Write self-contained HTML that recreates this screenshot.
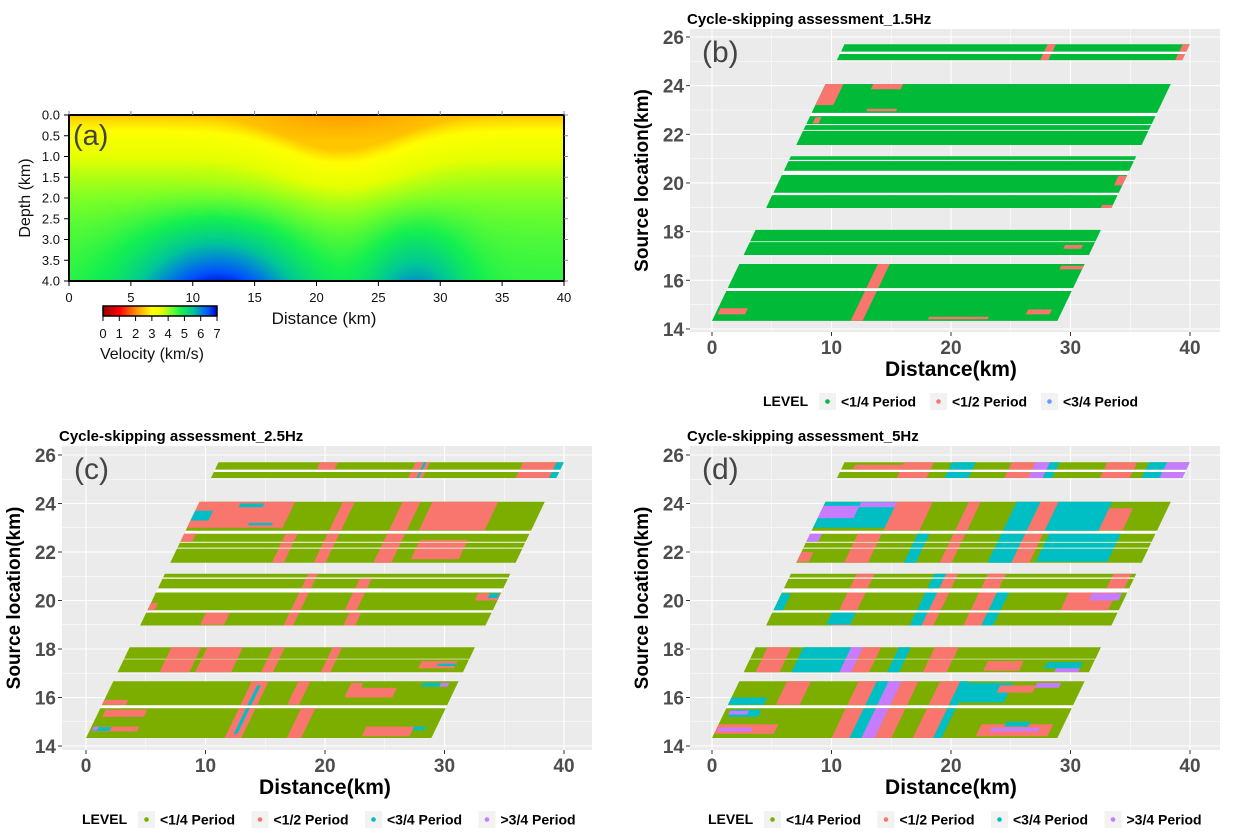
<!DOCTYPE html>
<html><head><meta charset="utf-8">
<style>
html,body{margin:0;padding:0;background:#fff;}
#root{position:relative;width:1233px;height:834px;overflow:hidden;font-family:"Liberation Sans",sans-serif;}
#vel{position:absolute;left:69px;top:115px;width:495px;height:166px;}
svg{position:absolute;left:0;top:0;}
</style></head>
<body>
<div id="root">
<canvas id="vel" width="160" height="54"></canvas>
<svg id="main" width="1233" height="834"></svg>
</div>
<script>
// ---------- data ----------
// velocity model (panel a) parameters: [surface v, increase, decay depth]
const velBase = [2.5, 2.3, 1.6];
const velShallowLow = [22, 6, 0.6];
const velDeepHigh = [[12, 6.5, 2.2], [28, 4, 1.3]];
const xTicksA = [0,5,10,15,20,25,30,35,40];
const yTicksA = [0.0,0.5,1.0,1.5,2.0,2.5,3.0,3.5,4.0];
const cbTicks = [0,1,2,3,4,5,6,7];
// source-line bands (source location km)
const bandsLo = [25.4,25.05,22.88,22.42,22.18,21.56,20.95,20.5,19.6,18.97,17.6,17.04,15.68,14.33];
const bandsHi = [25.7,25.3,24.07,22.75,22.38,22.14,21.1,20.9,20.33,19.5,18.07,17.57,16.67,15.56];
const xTicks = [0,10,20,30,40];
const yTicks = [14,16,18,20,22,24,26];
// patches: [u0,u1,y0,y1,level] where u = distance offset from band start
const patchesB = [
 [11.6,12.6,14.3,16.7,1],[0.2,2.5,14.6,14.85,1],[26,28,14.6,14.8,1],[18,23,14.4,14.5,1],
 [27,29,16.45,16.6,1],[26.5,28,17.3,17.45,1],[28.2,29,19.9,20.3,1],[28,29,18.97,19.1,1],
 [0,1.5,23.2,24.07,1],[4,6.5,23.85,24.07,1],[4.5,7,22.95,23.05,1],[0.5,1,22.45,22.7,1],
 [17,17.7,25.05,25.7,1],[28.3,29.2,25.05,25.7,1]
];
const patchesC = [
 [11.6,13,14.3,16.7,1],[16.8,18,14.3,15.56,1],[0.5,4,15.2,15.5,1],[0.2,4,14.6,14.8,1],
 [0.2,1.7,14.62,14.78,2],[0.2,0.6,14.65,14.8,3],[23,27,14.4,14.8,1],[27,28,14.65,14.8,2],
 [12.2,12.5,14.5,16.5,2],[20,21,16.2,16.6,1],[20,24,16.0,16.4,1],[26,27.5,16.45,16.6,2],
 [27.5,28.2,16.45,16.6,3],[0,2,15.7,15.9,1],[15.5,16.5,15.7,16.67,1],
 [3.5,6,17.04,18.07,1],[6.5,9.5,17.04,18.07,1],[12,13,17.04,18.07,1],[17,17.8,17.04,18.07,1],
 [25,28,17.2,17.5,1],[26.5,28,17.3,17.4,2],
 [12,12.8,18.97,21.1,1],[17,18,18.97,19.5,1],[5,7,19.0,19.6,1],[27,29,20.0,20.3,1],[28,28.8,20.1,20.3,2],
 [16.5,17.5,19.6,20.9,1],[0,0.6,19.6,19.9,1],
 [0,8,23.0,24.07,1],[0,1.5,23.3,23.7,2],[3.5,5.5,23.85,24.0,2],[5,7,23.1,23.2,2],
 [12,13,21.56,24.07,1],[17,18.5,21.56,24.07,1],[19.5,25,22.9,24.07,1],[20,24,21.7,22.5,1],
 [0,1,22.4,22.75,1],[8.5,9.5,21.56,22.75,1],
 [16.5,17.7,25.05,25.7,1],[17.2,17.4,25.05,25.7,2],[25.5,28.3,25.05,25.7,1],[28.3,29,25.05,25.7,2],[8.5,10,25.4,25.7,1]
];
const patchesD = [
 [11.5,12.5,14.3,16.7,2],[12.5,13.6,14.3,16.7,3],[13.6,15,14.3,16.7,1],[10,11.5,14.3,16.7,1],
 [16.8,18.5,14.3,16.7,1],[18.5,19.2,14.3,16.7,2],[0,5,14.5,14.9,1],[0.2,3,14.6,14.75,3],
 [0.5,3,15.2,15.5,2],[0.4,2,15.3,15.45,3],[22,28,14.4,14.9,1],[23,27,14.6,14.75,3],[24,26,14.8,15.0,2],
 [19,23,15.8,16.6,2],[22,25,16.2,16.5,1],[25,27,16.4,16.6,3],[0,3,15.7,16.0,2],[4,6,15.7,16.67,1],
 [4,6,17.04,18.07,2],[6,8,17.04,18.07,2],[8,9,17.04,18.07,3],[9,10.5,17.04,18.07,1],[12,13,17.04,18.07,2],
 [15,17,17.04,18.07,1],[20,23,17.1,17.5,1],[25,28,17.2,17.45,2],[26,28,17.05,17.2,3],[1,3,17.04,18.07,1],
 [5.5,7,18.97,21.1,1],[12,13,18.97,21.1,2],[13,14,18.97,21.1,1],[16.5,18,18.97,21.1,1],[18,19,18.97,20.4,2],
 [5,7,19.0,19.5,2],[24,28,19.6,20.4,1],[26,28.5,20.0,20.3,3],[0,0.8,19.6,20.3,2],[27,28.5,20.5,21.1,1],
 [0,6,23.0,24.07,2],[0,3,23.4,23.9,3],[3,6,23.85,24.05,3],[6,9,22.9,24.07,1],[12,13,21.56,24.07,1],
 [16,18,21.56,24.07,2],[18,19.5,21.56,24.07,1],[19.5,24,22.88,24.07,2],[20,26,21.6,22.75,2],[24,26,22.9,23.8,1],
 [0,1,22.4,22.75,3],[0,1,21.6,22.0,1],[4,6,21.56,22.75,1],[9,10,21.56,22.75,2],
 [5,7.5,25.05,25.7,1],[9,11,25.05,25.7,2],[14,16,25.05,25.7,1],[16,17.2,25.05,25.7,3],[17.2,18,25.05,25.7,2],
 [22,24.5,25.05,25.7,1],[25.5,27,25.05,25.7,2],[27,29,25.05,25.7,3],[1,6,25.4,25.6,1]
];
const colorsB = ['#00BA38','#F8766D','#619CFF'];
const colorsCD = ['#7CAE00','#F8766D','#00BFC4','#C77CFF'];
const legendB = ['<1/4 Period','<1/2 Period','<3/4 Period'];
const legendCD = ['<1/4 Period','<1/2 Period','<3/4 Period','>3/4 Period'];

// ---------- helpers ----------
const NS='http://www.w3.org/2000/svg';
const svg=document.getElementById('main');
function mk(tag,attrs,parent){const e=document.createElementNS(NS,tag);for(const k in attrs)e.setAttribute(k,attrs[k]);(parent||svg).appendChild(e);return e;}
function txt(s,attrs,parent){const e=mk('text',attrs,parent);e.textContent=s;return e;}

// ---------- panel a: velocity model ----------
function G(x,c,w){return Math.exp(-Math.pow((x-c)/w,2));}
function vel(x,z){
  const ze=Math.max(0,z-velShallowLow[2]*G(x,velShallowLow[0],velShallowLow[1])*(1.6-z/4));
  let v=velBase[0]+velBase[1]*(1-Math.exp(-ze/velBase[2]));
  if(z<0.6) v-=0.35*G(x,velShallowLow[0],velShallowLow[1])*(1-z/0.6);
  const dz=Math.max(0,(z-1.6)/2.4);
  for(const d of velDeepHigh) v+=Math.pow(dz,1.5)*d[2]*G(x,d[0],d[1]);
  return v;
}
const cmapStops=[[0,[150,0,0]],[1,[255,0,0]],[2,[255,140,0]],[3,[255,255,0]],[3.6,[230,255,0]],[4.2,[120,255,40]],[4.8,[20,240,80]],[5.5,[0,200,150]],[6,[0,140,210]],[6.5,[0,80,255]],[7,[0,0,190]]];
function cmap(v){
  if(v<=0)return cmapStops[0][1];
  for(let i=1;i<cmapStops.length;i++){if(v<=cmapStops[i][0]){const a=cmapStops[i-1],b=cmapStops[i];const t=(v-a[0])/(b[0]-a[0]);return a[1].map((c,j)=>Math.round(c+(b[1][j]-c)*t));}}
  return cmapStops[cmapStops.length-1][1];
}
(function(){
  const cv=document.getElementById('vel');const ctx=cv.getContext('2d');
  const W=cv.width,H=cv.height;const img=ctx.createImageData(W,H);
  for(let j=0;j<H;j++)for(let i=0;i<W;i++){const x=(i+0.5)/W*40,z=(j+0.5)/H*4;const c=cmap(vel(x,z));const k=(j*W+i)*4;img.data[k]=c[0];img.data[k+1]=c[1];img.data[k+2]=c[2];img.data[k+3]=255;}
  ctx.putImageData(img,0,0);
})();
const ga=mk('g',{});


const AX0=69,AX1=564,AY0=115,AY1=281;
const AXs=x=>AX0+x/40*(AX1-AX0), AYs=z=>AY0+z/4*(AY1-AY0);
mk('rect',{x:AX0,y:AY0,width:AX1-AX0,height:AY1-AY0,fill:'none',stroke:'#000','stroke-width':2},ga);
for(const t of xTicksA){
  mk('line',{x1:AXs(t),x2:AXs(t),y1:AY1,y2:AY1+5,stroke:'#000','stroke-width':1},ga);
  mk('line',{x1:AXs(t),x2:AXs(t),y1:AY0,y2:AY0-4,stroke:'#888','stroke-width':1},ga);
  const e=txt(String(t),{x:AXs(t),y:AY1+21,'font-size':13,'text-anchor':'middle',fill:'#111'},ga);
  
}
for(const t of yTicksA){
  mk('line',{x1:AX0-5,x2:AX0,y1:AYs(t),y2:AYs(t),stroke:'#000','stroke-width':1},ga);
  mk('line',{x1:AX1,x2:AX1+4,y1:AYs(t),y2:AYs(t),stroke:'#888','stroke-width':1},ga);
  const e=txt(t.toFixed(1),{x:AX0-9,y:AYs(t)+4.5,'font-size':13,'text-anchor':'end',fill:'#111'},ga);
  
}
const aLab=txt('(a)',{x:73,y:145,'font-size':29,fill:'#444'},ga);

const aYT=txt('Depth (km)',{x:0,y:0,'font-size':16,'text-anchor':'middle',fill:'#111',transform:'translate(30,198) rotate(-90)'},ga);

const aXT=txt('Distance (km)',{x:324,y:324,'font-size':17,'text-anchor':'middle',fill:'#111'},ga);

// colorbar
const defs=mk('defs',{});
const lg=mk('linearGradient',{id:'cbg',x1:0,x2:1,y1:0,y2:0},defs);
for(let v=0;v<=7;v+=0.25){const c=cmap(v);mk('stop',{offset:v/7,'stop-color':`rgb(${c[0]},${c[1]},${c[2]})`},lg);}
const CB0=103,CB1=217;
const cb=mk('rect',{x:CB0,y:306,width:CB1-CB0,height:10,fill:'url(#cbg)',stroke:'#000','stroke-width':1.5},ga);

for(const t of cbTicks){const x=CB0+t/7*(CB1-CB0);
  mk('line',{x1:x,x2:x,y1:316,y2:321,stroke:'#000'},ga);
  const e=txt(String(t),{x:x,y:338,'font-size':13,'text-anchor':'middle',fill:'#111'},ga);
  }
const cbT=txt('Velocity (km/s)',{x:152,y:359,'font-size':16,'text-anchor':'middle',fill:'#111'},ga);


// ---------- cycle-skipping panels ----------
const BW=28.9, SL=0.975, Y0B=14.33;
function shift(y){return SL*(y-Y0B);}
function drawPanel(cfg,patches,colors,labels){
  const g=mk('g',{});
  
  
  const X=x=>cfg.x0+x*cfg.kx, Y=y=>cfg.y26+(26-y)*cfg.ky;
  const bg=mk('rect',{x:cfg.px0,y:cfg.py0,width:cfg.px1-cfg.px0,height:cfg.py1-cfg.py0,fill:'#EBEBEB'},g);
  
  for(let t=-5;t<=45;t+=5){const x=X(t);if(x<cfg.px0||x>cfg.px1)continue;
    mk('line',{x1:x,x2:x,y1:cfg.py0,y2:cfg.py1,stroke:'#fff','stroke-width':t%10===0?1.1:0.5},g);}
  for(let t=13;t<=27;t+=1){const y=Y(t);if(y<cfg.py0||y>cfg.py1)continue;
    mk('line',{x1:cfg.px0,x2:cfg.px1,y1:y,y2:y,stroke:'#fff','stroke-width':t%2===0?1.1:0.5},g);}
  // white gap strips between closely adjacent bands
  for(let i=0;i<bandsLo.length-1;i++){
    const hi=bandsHi[i+1],lo=bandsLo[i];
    if(lo-hi>0.2)continue;
    const p=[[shift(hi),hi],[shift(hi)+BW,hi],[shift(lo)+BW,lo],[shift(lo),lo]].map(q=>X(q[0]).toFixed(1)+','+Y(q[1]).toFixed(1)).join(' ');
    mk('polygon',{points:p,fill:'#fff'},g);
  }
  // bands
  for(let i=0;i<bandsLo.length;i++){const lo=bandsLo[i],hi=bandsHi[i];
    const p=[[shift(lo),lo],[shift(lo)+BW,lo],[shift(hi)+BW,hi],[shift(hi),hi]].map(q=>X(q[0]).toFixed(1)+','+Y(q[1]).toFixed(1)).join(' ');
    const b=mk('polygon',{points:p,fill:colors[0]},g);
    
    
  }
  // patches clipped to bands
  for(const pt of patches){
    const u0=Math.max(0,pt[0]),u1=Math.min(BW,pt[1]);
    for(let i=0;i<bandsLo.length;i++){
      const lo=Math.max(pt[2],bandsLo[i]),hi=Math.min(pt[3],bandsHi[i]);
      if(hi<=lo)continue;
      const p=[[shift(lo)+u0,lo],[shift(lo)+u1,lo],[shift(hi)+u1,hi],[shift(hi)+u0,hi]].map(q=>X(q[0]).toFixed(1)+','+Y(q[1]).toFixed(1)).join(' ');
      const e=mk('polygon',{points:p,fill:colors[pt[4]]},g);
      
      
    }
  }
  const pl=txt(cfg.label,{x:cfg.px0+12,y:cfg.py0+33,'font-size':30,fill:'#444'},g);
  
  const ti=txt(cfg.title,{x:cfg.px0-3,y:cfg.py0-5,'font-size':15,'font-weight':'bold',fill:'#000'},g);
  
  for(const t of xTicks){
    mk('line',{x1:X(t),x2:X(t),y1:cfg.py1,y2:cfg.py1+4,stroke:'#333'},g);
    const e=txt(String(t),{x:X(t),y:cfg.py1+22,'font-size':19,'font-weight':'bold','text-anchor':'middle',fill:'#4D4D4D'},g);
    
  }
  for(const t of yTicks){
    mk('line',{x1:cfg.px0-4,x2:cfg.px0,y1:Y(t),y2:Y(t),stroke:'#333'},g);
    const e=txt(String(t),{x:cfg.px0-6,y:Y(t)+7,'font-size':19,'font-weight':'bold','text-anchor':'end',fill:'#4D4D4D'},g);
    
  }
  const xt=txt('Distance(km)',{x:(X(0)+X(40))/2,y:cfg.py1+44,'font-size':21,'font-weight':'bold','text-anchor':'middle',fill:'#000'},g);
  
  const yt=txt('Source location(km)',{x:0,y:0,'font-size':19,'font-weight':'bold','text-anchor':'middle',fill:'#000',transform:`translate(${cfg.px0-42},${(cfg.py0+cfg.py1)/2}) rotate(-90)`},g);
  
  // legend
  const ly=cfg.py1+69;
  const lt=txt('LEVEL',{x:cfg.legX,y:ly+5,'font-size':14,'font-weight':'bold',fill:'#000'},g);
  
  let lx=cfg.legX+56;
  for(let i=0;i<labels.length;i++){
    const key=mk('rect',{x:lx,y:ly-8,width:17,height:17,fill:'#F2F2F2'},g);
    
    mk('circle',{cx:lx+8.5,cy:ly+0.5,r:2.3,fill:colors[i]},g);
    const e=txt(labels[i],{x:lx+22,y:ly+5.5,'font-size':14,'font-weight':'bold',fill:'#000'},g);
    
    lx+=cfg.legStep;
  }
}
drawPanel({name:'panel-b',label:'(b)',title:'Cycle-skipping assessment_1.5Hz',x0:712,kx:11.95,y26:37,ky:24.33,px0:690,px1:1220,py0:29,py1:332,legX:763,legStep:111},patchesB,colorsB,legendB);
drawPanel({name:'panel-c',label:'(c)',title:'Cycle-skipping assessment_2.5Hz',x0:86,kx:11.95,y26:455,ky:24.25,px0:62,px1:592,py0:446,py1:750,legX:82,legStep:113.5},patchesC,colorsCD,legendCD);
drawPanel({name:'panel-d',label:'(d)',title:'Cycle-skipping assessment_5Hz',x0:712,kx:11.95,y26:455,ky:24.25,px0:690,px1:1220,py0:446,py1:750,legX:708,legStep:113.5},patchesD,colorsCD,legendCD);
</script>
</body></html>
